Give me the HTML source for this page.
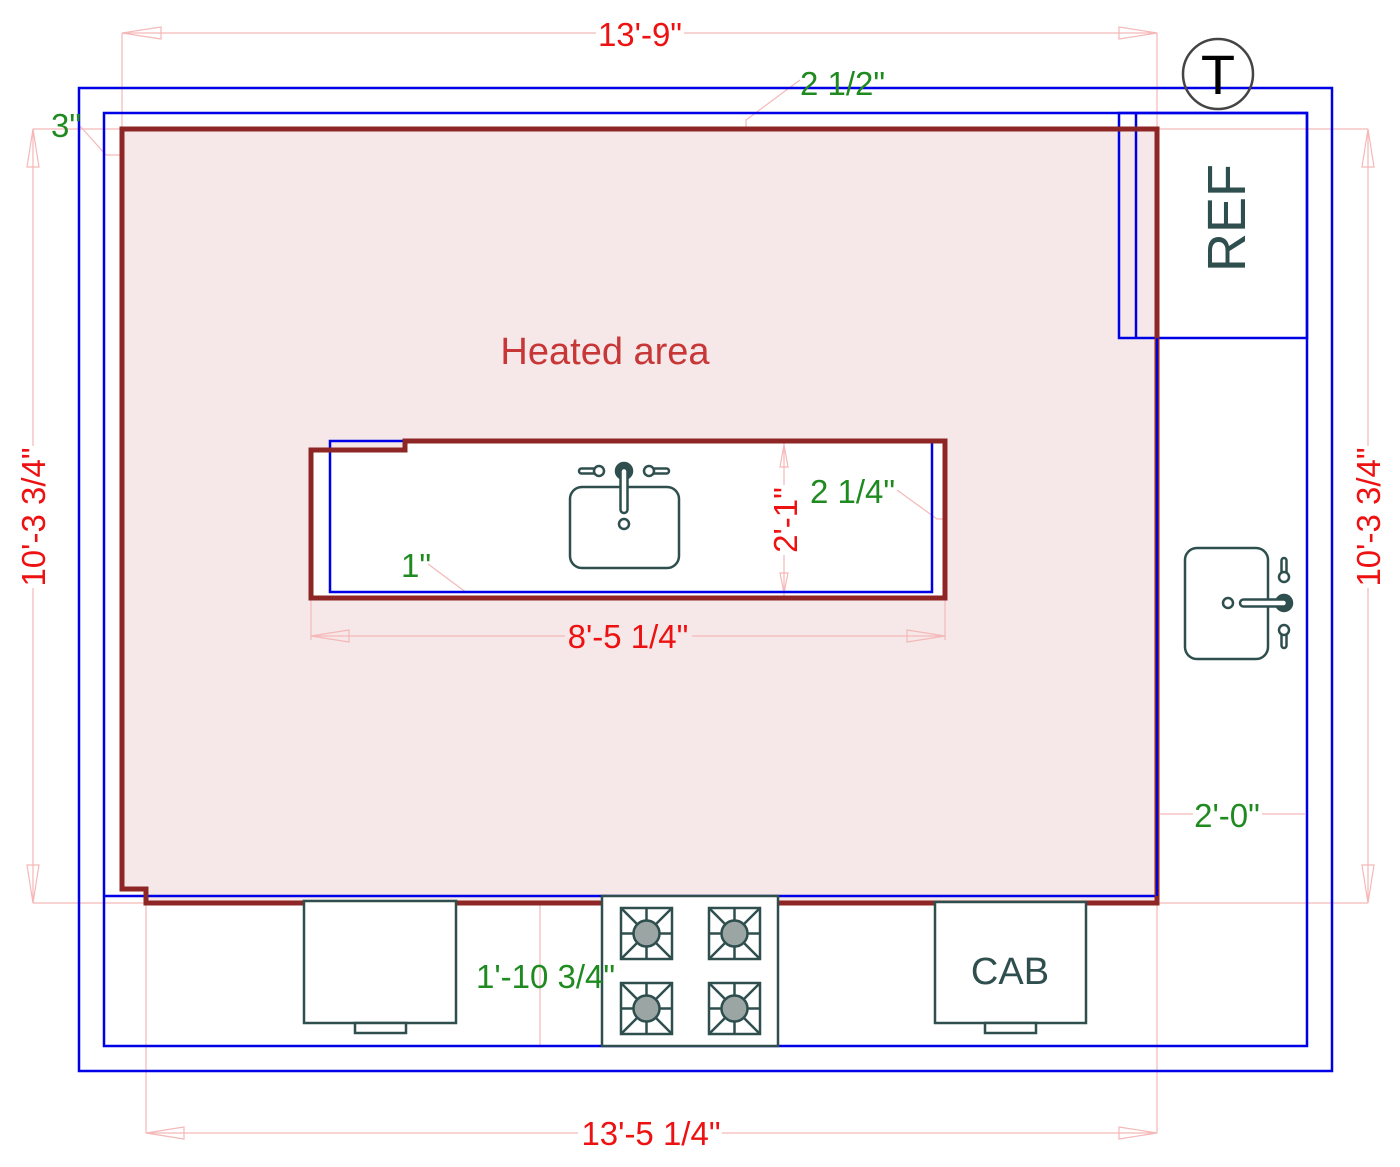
<!DOCTYPE html>
<html><head><meta charset="utf-8"><style>
html,body{margin:0;padding:0;background:#fff;}
svg{display:block;}
text{font-family:"Liberation Sans",Arial,sans-serif;}
</style></head><body>
<svg width="1400" height="1167" viewBox="0 0 1400 1167" xmlns="http://www.w3.org/2000/svg">
<rect width="1400" height="1167" fill="#fff"/>

<!-- heated area fill -->
<polygon points="122,129 1157,129 1157,903 146,903 146,889 122,889" fill="#f6e8e8"/>
<!-- island white -->
<polygon points="311,450 405,450 405,441 945,441 945,598 311,598" fill="#fff"/>

<!-- dimension lines (pink) -->
<g stroke="#f5b8b8" stroke-width="1.2" fill="none">
  <!-- top -->
  <line x1="122" y1="33" x2="596" y2="33"/><line x1="684" y1="33" x2="1157" y2="33"/>
  <line x1="122" y1="33" x2="122" y2="129"/><line x1="1157" y1="33" x2="1157" y2="129"/>
  <polygon points="122,33 161,27 161,39"/><polygon points="1157,33 1119,27 1119,39"/>
  <!-- left -->
  <line x1="33" y1="129" x2="33" y2="446"/><line x1="33" y1="588" x2="33" y2="903"/>
  <line x1="33" y1="129" x2="122" y2="129"/><line x1="33" y1="903" x2="146" y2="903"/>
  <polygon points="33,129 27,167 39,167"/><polygon points="33,903 27,865 39,865"/>
  <!-- right -->
  <line x1="1368" y1="129" x2="1368" y2="446"/><line x1="1368" y1="588" x2="1368" y2="903"/>
  <line x1="1157" y1="129" x2="1368" y2="129"/><line x1="1157" y1="903" x2="1368" y2="903"/>
  <polygon points="1368,129 1362,167 1374,167"/><polygon points="1368,903 1362,865 1374,865"/>
  <!-- bottom -->
  <line x1="146" y1="1133" x2="578" y2="1133"/><line x1="722" y1="1133" x2="1157" y2="1133"/>
  <line x1="146" y1="903" x2="146" y2="1133"/><line x1="1157" y1="903" x2="1157" y2="1133"/>
  <polygon points="146,1133 184,1127 184,1139"/><polygon points="1157,1133 1119,1127 1119,1139"/>
  <!-- island -->
  <line x1="311" y1="636" x2="565" y2="636"/><line x1="692" y1="636" x2="945" y2="636"/>
  <line x1="311" y1="598" x2="311" y2="640"/><line x1="945" y1="598" x2="945" y2="640"/>
  <polygon points="311,636 349,630 349,642"/><polygon points="945,636 907,630 907,642"/>
  <!-- 2'-1" -->
  <line x1="784" y1="443" x2="784" y2="485"/><line x1="784" y1="555" x2="784" y2="598"/>
  <polygon points="784,445 780,467 788,467"/><polygon points="784,593 780,573 788,573"/>
  <!-- 2'-0" -->
  <line x1="1160" y1="814" x2="1193" y2="814"/><line x1="1262" y1="814" x2="1305" y2="814"/>
  <!-- 1'-10 3/4" -->
  <line x1="540" y1="903" x2="540" y2="1046"/>
  <!-- leaders -->
  <polyline points="80,126 106,155 121,155"/>
  <polyline points="800,80 746,120 746,128"/>
  <polyline points="897,490 937,519 945,519"/>
  <polyline points="428,564 467,593"/>
</g>

<!-- blue outlines -->
<g stroke="#0000e6" stroke-width="2.5" fill="none">
  <rect x="79" y="88" width="1253" height="983"/>
  <rect x="104" y="113" width="1203" height="933"/>
  <polyline points="104,896 1157,896 1157,338"/>
  <rect x="1119" y="113" width="188" height="225"/>
  <line x1="1136" y1="113" x2="1136" y2="338"/>
  <rect x="330" y="441" width="602" height="151"/>
</g>

<!-- brown walls -->
<g stroke="#8e2626" stroke-width="5" fill="none" stroke-linejoin="miter">
  <polygon points="122,129 1157,129 1157,903 146,903 146,889 122,889"/>
  <polygon points="311,450 405,450 405,441 945,441 945,598 311,598"/>
</g>
<line x1="1157" y1="338" x2="1157" y2="896" stroke="#0000e6" stroke-width="2"/>

<!-- appliances -->
<g stroke="#2f4f4f" stroke-width="2.5" fill="#fff">
  <!-- left cabinet -->
  <rect x="304" y="901" width="152" height="122"/>
  <rect x="355" y="1023" width="51" height="10"/>
  <!-- CAB -->
  <rect x="935" y="902" width="151" height="121"/>
  <rect x="985" y="1023" width="51" height="10"/>
  <!-- stove -->
  <rect x="602" y="896" width="176" height="150"/>
</g>

<!-- burners -->
<g stroke="#2f4f4f" stroke-width="2.5">
  <g transform="translate(621,908)">
    <rect x="0" y="0" width="51" height="51" fill="#fff"/>
    <line x1="0" y1="0" x2="51" y2="51"/><line x1="51" y1="0" x2="0" y2="51"/>
    <line x1="25.5" y1="0" x2="25.5" y2="51"/><line x1="0" y1="25.5" x2="51" y2="25.5"/>
    <circle cx="25.5" cy="25.5" r="13" fill="#9aa5a4"/>
  </g>
  <g transform="translate(709,908)">
    <rect x="0" y="0" width="51" height="51" fill="#fff"/>
    <line x1="0" y1="0" x2="51" y2="51"/><line x1="51" y1="0" x2="0" y2="51"/>
    <line x1="25.5" y1="0" x2="25.5" y2="51"/><line x1="0" y1="25.5" x2="51" y2="25.5"/>
    <circle cx="25.5" cy="25.5" r="13" fill="#9aa5a4"/>
  </g>
  <g transform="translate(621,983)">
    <rect x="0" y="0" width="51" height="51" fill="#fff"/>
    <line x1="0" y1="0" x2="51" y2="51"/><line x1="51" y1="0" x2="0" y2="51"/>
    <line x1="25.5" y1="0" x2="25.5" y2="51"/><line x1="0" y1="25.5" x2="51" y2="25.5"/>
    <circle cx="25.5" cy="25.5" r="13" fill="#9aa5a4"/>
  </g>
  <g transform="translate(709,983)">
    <rect x="0" y="0" width="51" height="51" fill="#fff"/>
    <line x1="0" y1="0" x2="51" y2="51"/><line x1="51" y1="0" x2="0" y2="51"/>
    <line x1="25.5" y1="0" x2="25.5" y2="51"/><line x1="0" y1="25.5" x2="51" y2="25.5"/>
    <circle cx="25.5" cy="25.5" r="13" fill="#9aa5a4"/>
  </g>
</g>

<!-- island sink -->
<g stroke="#2f4f4f" stroke-width="2.5" fill="#fff">
  <rect x="570" y="487" width="109" height="81" rx="12"/>
  <rect x="579" y="468.5" width="20" height="5" rx="2.5"/>
  <rect x="649" y="468.5" width="20" height="5" rx="2.5"/>
  <circle cx="599" cy="471" r="5"/>
  <circle cx="649" cy="471" r="5"/>
  <circle cx="624" cy="471" r="8" fill="#2f4f4f"/>
  <rect x="620.5" y="468" width="7" height="45" rx="3.5"/>
  <circle cx="624" cy="524" r="5"/>
</g>

<!-- right sink -->
<g stroke="#2f4f4f" stroke-width="2.5" fill="#fff">
  <rect x="1185" y="548" width="83" height="111" rx="12"/>
  <rect x="1281.5" y="558" width="5" height="19" rx="2.5"/>
  <rect x="1281.5" y="630" width="5" height="18" rx="2.5"/>
  <circle cx="1284" cy="577" r="5"/>
  <circle cx="1284" cy="630" r="5"/>
  <circle cx="1284" cy="603" r="8" fill="#2f4f4f"/>
  <rect x="1240" y="599.5" width="47" height="7" rx="3.5"/>
  <circle cx="1228" cy="603" r="5"/>
</g>

<!-- T circle -->
<circle cx="1218" cy="74" r="35" fill="none" stroke="#444" stroke-width="2.5"/>
<text x="1218" y="94" font-size="56" text-anchor="middle" fill="#000">T</text>

<!-- labels -->
<text x="605" y="364" font-size="38" text-anchor="middle" fill="#c83737">Heated area</text>
<text x="1010" y="984" font-size="38" text-anchor="middle" fill="#2f4f4f">CAB</text>
<text transform="translate(1245,218) rotate(-90)" font-size="54" text-anchor="middle" fill="#2f4f4f">REF</text>

<g font-size="33" fill="#ee1111" text-anchor="middle">
  <text x="640" y="46">13'-9"</text>
  <text x="651" y="1145">13'-5 1/4"</text>
  <text x="628" y="648">8'-5 1/4"</text>
  <text transform="translate(45,517) rotate(-90)">10'-3 3/4"</text>
  <text transform="translate(1380,517) rotate(-90)">10'-3 3/4"</text>
  <text transform="translate(797,520) rotate(-90)">2'-1"</text>
</g>

<g font-size="33" fill="#1f8a1f">
  <text x="51" y="137">3"</text>
  <text x="800" y="95">2 1/2"</text>
  <text x="810" y="503">2 1/4"</text>
  <text x="401" y="577">1"</text>
  <text x="1227" y="827" text-anchor="middle">2'-0"</text>
  <text x="476" y="988">1'-10 3/4"</text>
</g>
</svg>
</body></html>
